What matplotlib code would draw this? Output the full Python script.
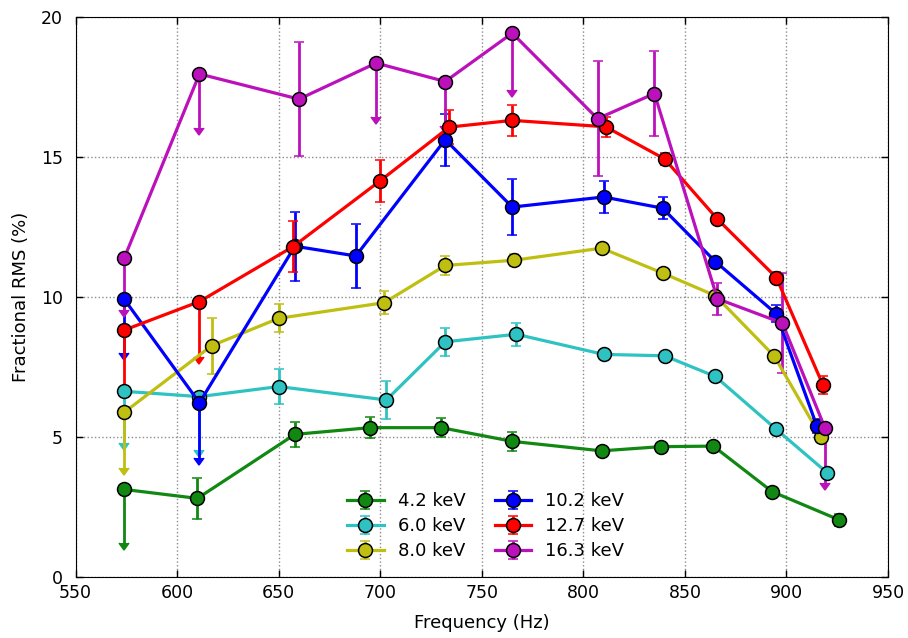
import numpy as np
from matplotlib import pyplot as plt

# 4.2 keV
f_42 = [574, 610, 658, 695, 730, 765, 809, 838, 864, 893, 926]
r_42 = [3.12, 2.80, 5.09, 5.33, 5.33, 4.84, 4.50, 4.65, 4.67, 3.04, 2.03]
e_42 = [1.93, 0.73, 0.45, 0.37, 0.35, 0.35, 0.12, 0.12, 0.12, 0.12, 0.22]
ul_42 = [True, False, False, False, False, False, False, False, False, False, False]

# 6.0 keV
f_60 = [574, 611, 650, 703, 732, 767, 810, 840, 865, 895, 920]
r_60 = [6.63, 6.44, 6.80, 6.32, 8.40, 8.67, 7.95, 7.90, 7.16, 5.27, 3.72]
e_60 = [1.85, 1.91, 0.62, 0.69, 0.51, 0.41, 0.12, 0.12, 0.12, 0.12, 0.15]
ul_60 = [True, True, False, False, False, False, False, False, False, False, False]

# 8.0 keV
f_80 = [574, 617, 650, 702, 732, 766, 809, 839, 865, 894, 917]
r_80 = [5.88, 8.26, 9.24, 9.80, 11.13, 11.32, 11.75, 10.86, 10.05, 7.89, 4.99]
e_80 = [1.98, 1.00, 0.50, 0.42, 0.35, 0.22, 0.12, 0.12, 0.12, 0.15, 0.15]
ul_80 = [True, False, False, False, False, False, False, False, False, False, False]

# 10.2 keV
f_102 = [574, 611, 658, 688, 732, 765, 810, 839, 865, 895, 915]
r_102 = [9.92, 6.22, 11.82, 11.47, 15.63, 13.22, 13.58, 13.18, 11.27, 9.40, 5.38]
e_102 = [1.93, 1.98, 1.24, 1.14, 0.93, 0.99, 0.57, 0.40, 0.15, 0.30, 0.25]
ul_102 = [True, True, False, False, False, False, False, False, False, False, False]

# 12.7 keV
f_127 = [574, 611, 657, 700, 734, 765, 811, 840, 866, 895, 918]
r_127 = [8.82, 9.84, 11.80, 14.16, 16.08, 16.32, 16.09, 14.94, 12.79, 10.70, 6.85]
e_127 = [2.02, 1.97, 0.91, 0.76, 0.62, 0.56, 0.35, 0.20, 0.15, 0.20, 0.33]
ul_127 = [True, True, False, False, False, False, False, False, False, False, False]

# 16.3 keV
f_163 = [574, 611, 660, 698, 732, 765, 807, 835, 866, 898, 919]
r_163 = [11.40, 17.98, 17.08, 18.37, 17.71, 19.44, 16.38, 17.28, 9.94, 9.07, 5.31]
e_163 = [1.86, 1.94, 2.05, 1.94, 1.60, 2.03, 2.05, 1.53, 0.58, 1.80, 1.97]
ul_163 = [True, True, False, True, True, True, False, False, False, False, True]

series = [
    (f_42, r_42, e_42, ul_42, '#118811', '4.2 keV'),
    (f_60, r_60, e_60, ul_60, '#2ec2c2', '6.0 keV'),
    (f_80, r_80, e_80, ul_80, '#bfbf11', '8.0 keV'),
    (f_102, r_102, e_102, ul_102, '#0000ff', '10.2 keV'),
    (f_127, r_127, e_127, ul_127, '#ff0000', '12.7 keV'),
    (f_163, r_163, e_163, ul_163, '#bb11bb', '16.3 keV'),
]

plt.rcParams['font.size'] = 12.5
fig = plt.figure(figsize=(9.08, 6.38), dpi=100)
ax = fig.add_axes([0.0832, 0.0961, 0.8948, 0.8765])

for f, r, e, ul, c, lab in series:
    ax.errorbar(f, r, yerr=e, uplims=ul, fmt='-o', color=c, mfc=c, mec='k',
                mew=1.1, ms=10, lw=2.3, elinewidth=2, capsize=3.5, capthick=1.5,
                label=lab)

ax.set_xlim(550, 950)
ax.set_ylim(0, 20)
ax.set_xticks(np.arange(550, 951, 50))
ax.set_yticks([0, 5, 10, 15, 20])
ax.tick_params(direction='in', top=True, right=True, length=5, width=1)
ax.tick_params(axis='y', pad=9)
ax.tick_params(axis='x', pad=5)
ax.grid(True, linestyle=':', color='0.55', linewidth=1)
ax.set_xlabel('Frequency (Hz)', fontsize=13, labelpad=9)
ax.set_ylabel('Fractional RMS (%)', fontsize=13, labelpad=8)

ax.legend(ncol=2, frameon=False, loc='lower center', bbox_to_anchor=(0.505, 0.0),
          fontsize=13, labelspacing=0.4, handletextpad=0.8, columnspacing=1.6)

fig.savefig('out.png', dpi=100)
